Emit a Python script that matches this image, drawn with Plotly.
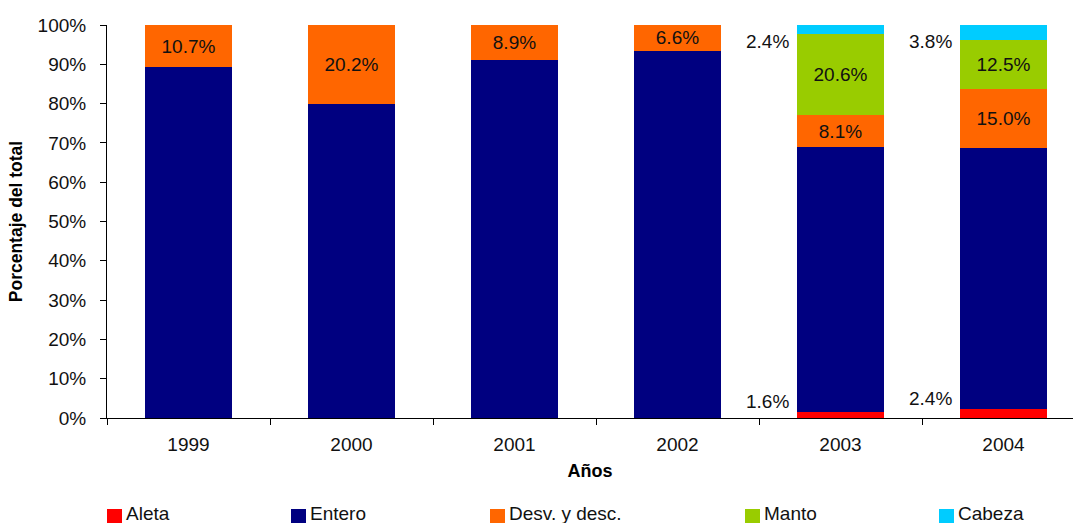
import plotly.graph_objects as go

# Catch composition by product type, share of the annual total (%)
years = ["1999", "2000", "2001", "2002", "2003", "2004"]
aleta = [0, 0, 0, 0, 1.6, 2.4]
entero = [89.3, 79.8, 91.1, 93.4, 67.3, 66.3]
desv_desc = [10.7, 20.2, 8.9, 6.6, 8.1, 15.0]
manto = [0, 0, 0, 0, 20.6, 12.5]
cabeza = [0, 0, 0, 0, 2.4, 3.8]

y_ticks = [0, 10, 20, 30, 40, 50, 60, 70, 80, 90, 100]

FONT = "Liberation Sans, Arial, sans-serif"
TXT = "#111111"
FS = 19

series = [
    ("Aleta", aleta, "#FF0000", False),
    ("Entero", entero, "#000080", False),
    ("Desv. y desc.", desv_desc, "#FF6600", True),
    ("Manto", manto, "#99CC00", True),
    ("Cabeza", cabeza, "#00CCFF", False),
]

fig = go.Figure()
for name, vals, color, inner_label in series:
    fig.add_trace(go.Bar(
        name=name,
        x=years,
        y=vals,
        width=0.535,
        marker=dict(color=color, line=dict(width=0)),
        text=[f"{v:.1f}%" if (inner_label and v > 0) else "" for v in vals],
        textposition="inside",
        insidetextanchor="middle",
        textangle=0,
        textfont=dict(family=FONT, size=FS, color=TXT),
        showlegend=False,
        hoverinfo="skip",
    ))

annotations = []
# thin segments are labelled beside the bar, on its left
for i, yr in enumerate(years):
    if aleta[i] > 0:
        annotations.append(dict(
            x=i, y=aleta[i], xref="x", yref="y",
            text=f"{aleta[i]:.1f}%", showarrow=False,
            xanchor="right", yanchor="bottom", xshift=-50, yshift=-2,
            font=dict(family=FONT, size=FS, color=TXT)))
    if cabeza[i] > 0:
        annotations.append(dict(
            x=i, y=100, xref="x", yref="y",
            text=f"{cabeza[i]:.1f}%", showarrow=False,
            xanchor="right", yanchor="top", xshift=-50, yshift=-4,
            font=dict(family=FONT, size=FS, color=TXT)))

# bottom legend, drawn as swatches + labels (pixel layout converted to paper units)
L, R, T, B = 107, 0, 25, 105
W, H = 1073, 523
pw, ph = W - L - R, H - T - B


def px_x(px):
    return (px - L) / pw


def px_y(py):
    return (H - B - py) / ph


legend_x = [107, 291, 490, 745, 939]
shapes = []
for (name, _, color, _), lx in zip(series, legend_x):
    shapes.append(dict(type="rect", xref="paper", yref="paper",
                       x0=px_x(lx), x1=px_x(lx + 15), y0=px_y(523), y1=px_y(509),
                       fillcolor=color, line=dict(width=0)))
    annotations.append(dict(x=px_x(lx + 17), y=px_y(513), xref="paper", yref="paper",
                            text=name, showarrow=False, xanchor="left", yanchor="middle",
                            font=dict(family=FONT, size=FS, color=TXT)))

fig.update_layout(
    barmode="stack",
    width=W, height=H,
    margin=dict(l=L, r=R, t=T, b=B, pad=0),
    paper_bgcolor="white", plot_bgcolor="white",
    font=dict(family=FONT, size=FS, color=TXT),
    uniformtext=dict(minsize=FS, mode="show"),
    shapes=shapes,
    annotations=annotations,
    xaxis=dict(
        type="category",
        range=[-0.5, -0.5 + pw / 163.0],
        showline=True, linecolor="black", linewidth=1,
        ticks="outside", tickson="boundaries", ticklen=6, tickcolor="black",
        ticklabelstandoff=9,
        showgrid=False, zeroline=False,
        tickfont=dict(family=FONT, size=FS, color=TXT),
        title=dict(text="<b>Años</b>", font=dict(family=FONT, size=18, color="black"), standoff=10),
    ),
    yaxis=dict(
        range=[0, 100],
        tickvals=y_ticks,
        ticktext=[f"{v}%" for v in y_ticks],
        showline=True, linecolor="black", linewidth=1,
        ticks="outside", ticklen=6, tickcolor="black",
        ticklabelstandoff=10,
        showgrid=False, zeroline=False,
        tickfont=dict(family=FONT, size=FS, color=TXT),
        title=dict(text="<b>Porcentaje del total</b>", font=dict(family=FONT, size=17.5, color="black"), standoff=10),
    ),
)

fig.write_html("out.html")
